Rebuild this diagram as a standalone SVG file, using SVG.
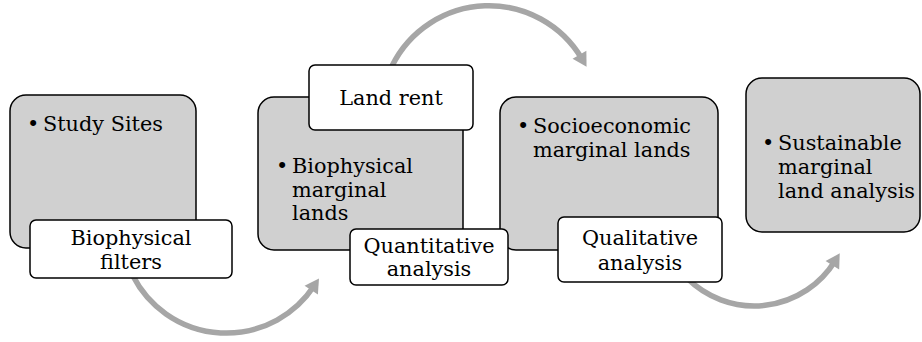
<svg xmlns="http://www.w3.org/2000/svg" width="922" height="342" viewBox="0 0 922 342">
<style>
.main{fill:#d0d0d0;stroke:#000;stroke-width:1.5}
.lab{fill:#fff;stroke:#000;stroke-width:1.5}
.t{font-family:"DejaVu Serif","Liberation Serif",serif;font-size:20.8px;fill:#000}
.c{text-anchor:middle}
.arr{fill:none;stroke:#a6a6a6;stroke-width:5.5}
</style>
<defs>
<marker id="ah" markerUnits="userSpaceOnUse" markerWidth="24" markerHeight="24" viewBox="-12 -12 24 24" refX="0" refY="0" orient="auto">
<path d="M-5,-8 L9,0 L-5,8 z" fill="#a6a6a6"/>
</marker>
</defs>
<g id="connectors">
<path class="arr" d="M133,276 A105,105 0 0 0 314,286" marker-end="url(#ah)"/>
<path class="arr" d="M392,66 A108,108 0 0 1 582,59" marker-end="url(#ah)"/>
<path class="arr" d="M687,278 A95,95 0 0 0 835,261" marker-end="url(#ah)"/>
</g>
<g id="n1">
<rect class="main" x="10" y="95" width="186" height="153" rx="16"/>
<text class="t" y="131"><tspan x="27">•</tspan><tspan x="43">Study Sites</tspan></text>
</g>
<g id="l1">
<rect class="lab" x="30" y="220" width="202" height="58" rx="6"/>
<text class="t c" x="131" y="245">Biophysical</text>
<text class="t c" x="131" y="269">filters</text>
</g>
<g id="n2">
<rect class="main" x="258" y="97" width="205" height="153" rx="16"/>
<text class="t"><tspan x="276" y="173">•</tspan><tspan x="292" y="173">Biophysical</tspan><tspan x="292" y="197">marginal</tspan><tspan x="292" y="220">lands</tspan></text>
</g>
<g id="n3">
<rect class="main" x="500" y="97" width="218" height="153" rx="16"/>
<text class="t"><tspan x="517" y="133">•</tspan><tspan x="533" y="133">Socioeconomic</tspan><tspan x="533" y="157">marginal lands</tspan></text>
</g>
<g id="l2">
<rect class="lab" x="309" y="65" width="164" height="65" rx="6"/>
<text class="t c" x="391" y="105">Land rent</text>
</g>
<g id="l3">
<rect class="lab" x="350" y="229" width="158" height="56" rx="6"/>
<text class="t c" x="429" y="253">Quantitative</text>
<text class="t c" x="429" y="276">analysis</text>
</g>
<g id="l4">
<rect class="lab" x="558" y="217" width="164" height="65" rx="6"/>
<text class="t c" x="640" y="245">Qualitative</text>
<text class="t c" x="640" y="270">analysis</text>
</g>
<g id="n4">
<rect class="main" x="746" y="78" width="174" height="154" rx="16"/>
<text class="t"><tspan x="762" y="150">•</tspan><tspan x="778" y="150">Sustainable</tspan><tspan x="778" y="174">marginal</tspan><tspan x="778" y="198">land analysis</tspan></text>
</g>
</svg>
